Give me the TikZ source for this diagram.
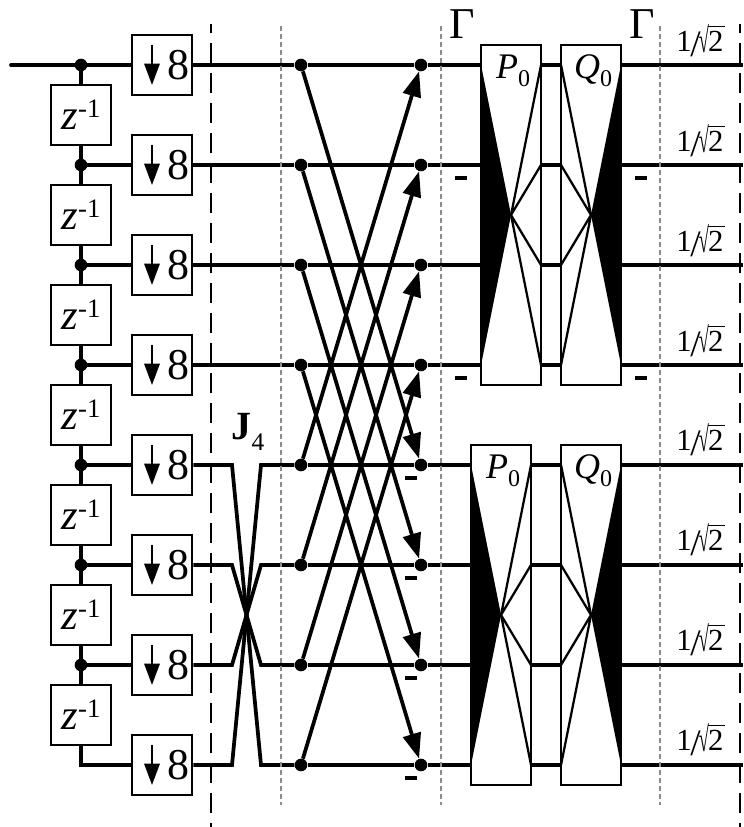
\documentclass[tikz,border=0pt]{standalone}
\usepackage{fontspec}
\setmainfont{Liberation Serif}
\usetikzlibrary{arrows.meta}
\newcommand{\zinv}{{\fontsize{32}{32}\selectfont\itshape z}\raisebox{9pt}{\fontsize{20}{20}\selectfont -1}}
\newcommand{\subbed}[2]{{\fontsize{27}{27}\selectfont #1}\raisebox{-6pt}{\fontsize{18}{18}\selectfont #2}}
\newcommand{\rtwo}{\fontsize{23}{23}\selectfont 1\kern-1pt\raisebox{-4pt}{\fontsize{28}{28}\selectfont /}\kern-1.5pt\raisebox{-1pt}{\scalebox{.6}[1.15]{√}}\kern-0.5pt\rlap{\raisebox{18.5pt}{\rule{12.5pt}{0.9pt}}}2}
\tikzset{
  wire/.style={line width=2.8pt},
  thin wire/.style={line width=1.7pt},
  box/.style={draw,line width=1.6pt,fill=white,inner sep=0pt},
  zbox/.style={box,minimum width=45pt,minimum height=45pt},
  dbox/.style={box,minimum width=45.5pt,minimum height=45pt},
  dot/.style={circle,fill=black,inner sep=0pt,minimum size=9.5pt},
  bigarrow/.style={-{Triangle[length=19pt,width=13.5pt]}},
  smallarrow/.style={-{Triangle[length=16pt,width=11.5pt]},line width=1.6pt},
  major/.style={dash pattern=on 15pt off 7.5pt,dash phase=8pt,line width=1.7pt},
  minor/.style={dash pattern=on 4pt off 2pt,line width=1.1pt,draw=black!45},
  lab/.style={inner sep=0pt},
  minus/.style={fill=black,minimum width=8.5pt,minimum height=2.5pt,inner sep=0pt},
}
\begin{document}
\begin{tikzpicture}[x=0.75pt,y=-0.75pt]
\useasboundingbox (0,0) rectangle (743,827);
% coordinates
\coordinate (in) at (11,65);
\foreach \i/\y in {1/65,2/165,3/265,4/365,5/465,6/565,7/665,8/765}{
  \coordinate (t\i) at (81,\y);
  \node[dot] (a\i) at (301,\y) {};
  \node[dot] (b\i) at (421,\y) {};
  \coordinate (e\i) at (743,\y);
}
% delay line
\draw[wire,line cap=round] (in) -- (t1);
\draw[wire] (t1) -- (t2) -- (t3) -- (t4) -- (t5) -- (t6) -- (t7) -- (t8) -- ++(60,0);
\foreach \i in {1,...,7}{\node[dot] at (t\i) {};}
% decimators
\foreach \i/\y in {1/65,2/165,3/265,4/365,5/465,6/565,7/665,8/765}{
  \draw[wire] (t\i) -- ++(60,0);
  \node[dbox] (d\i) at (162,\y) {};
  \coordinate (dtop\i) at (152,\y-20);
  \coordinate (dbot\i) at (152,\y+20);
  \draw[smallarrow] (dtop\i) -- (dbot\i);
  \node[lab,font=\fontsize{33}{33}\selectfont] (n\i) at (178,\y) {8};
}
\foreach \i/\y in {1/115,2/215,3/315,4/415,5/515,6/615,7/715}{
  \node[zbox] (z\i) at (81,\y) {\zinv};
}
% straight through upper wires
\foreach \i in {1,2,3,4}{\draw[wire] (d\i) -- (a\i);}
% J4
\draw[wire] (d5) -- (232,465) -- (261,765) -- (a8);
\draw[wire] (d6) -- (232,565) -- (261,665) -- (a7);
\draw[wire] (d7) -- (232,665) -- (261,565) -- (a6);
\draw[wire] (d8) -- (232,765) -- (261,465) -- (a5);
% horizontal through
\foreach \i in {1,...,8}{\draw[wire] (a\i) -- (b\i);}
% butterflies
\foreach \i/\j in {1/5,2/6,3/7,4/8}{
  \draw[wire,bigarrow] (a\i) -- (b\j);
  \draw[wire,bigarrow] (a\j) -- (b\i);
}
% right-hand wires
\foreach \i in {1,...,8}{\draw[wire] (b\i) -- (e\i);}
% dashed verticals
\coordinate (m1t) at (211,24); \coordinate (m1b) at (211,827);
\coordinate (m2t) at (740,24); \coordinate (m2b) at (740,827);
\coordinate (g1t) at (281,26); \coordinate (g1b) at (281,805);
\coordinate (g2t) at (441,26); \coordinate (g2b) at (441,805);
\coordinate (g3t) at (660,26); \coordinate (g3b) at (660,805);
\draw[major] (m1t) -- (m1b);
\draw[major] (m2t) -- (m2b);
\draw[minor] (g1t) -- (g1b);
\draw[minor] (g2t) -- (g2b);
\draw[minor] (g3t) -- (g3b);
% P0 and Q0 blocks (kind 0 = P, kind 1 = Q)
\foreach \n/\l/\t/\kind in {pu/481/45/0,qu/561/45/1,pl/471/445/0,ql/561/445/1}{
  \pgfmathsetmacro{\r}{\l+60}
  \pgfmathsetmacro{\m}{\l+30}
  \pgfmathsetmacro{\ya}{\t+20}
  \pgfmathsetmacro{\yb}{\t+120}
  \pgfmathsetmacro{\yc}{\t+220}
  \pgfmathsetmacro{\yd}{\t+320}
  \pgfmathsetmacro{\ymid}{\t+170}
  \node[box,minimum width=45pt,minimum height=255pt] (\n) at (\m,\ymid) {};
  \coordinate (\n c) at (\m,\ymid);
  \ifnum\kind=0
    \fill (\l,\ya) -- (\n c) -- (\l,\yd) -- cycle;
    \draw[thin wire] (\n c) -- (\r,\ya) (\n c) -- (\r,\yb) (\n c) -- (\r,\yc) (\n c) -- (\r,\yd);
  \else
    \fill (\r,\ya) -- (\n c) -- (\r,\yd) -- cycle;
    \draw[thin wire] (\n c) -- (\l,\ya) (\n c) -- (\l,\yb) (\n c) -- (\l,\yc) (\n c) -- (\l,\yd);
  \fi
}
\node[lab] (lp1) at (513,71) {\subbed{\itshape P}{0}};
\node[lab] (lq1) at (593,71) {\subbed{\itshape Q}{0}};
\node[lab] (lp2) at (503,471) {\subbed{\itshape P}{0}};
\node[lab] (lq2) at (593,471) {\subbed{\itshape Q}{0}};
% labels
\node[lab,font=\fontsize{33}{33}\selectfont] (g1) at (462,24) {Γ};
\node[lab,font=\fontsize{33}{33}\selectfont] (g2) at (642,24) {Γ};
\node[lab] (j4) at (248,432) {{\fontsize{30}{30}\selectfont\bfseries J}\raisebox{-8pt}{\fontsize{19}{19}\selectfont 4}};
\foreach \i/\y in {1/41,2/141,3/241,4/341,5/440,6/540,7/640,8/740}{
  \node[lab] (r\i) at (700,\y) {\rtwo};
}
\foreach \x/\y in {461/178,461/378,641/178,641/378,411/478,411/578,411/678,411/778}{
  \node[minus] at (\x,\y) {};
}
\end{tikzpicture}
\end{document}
